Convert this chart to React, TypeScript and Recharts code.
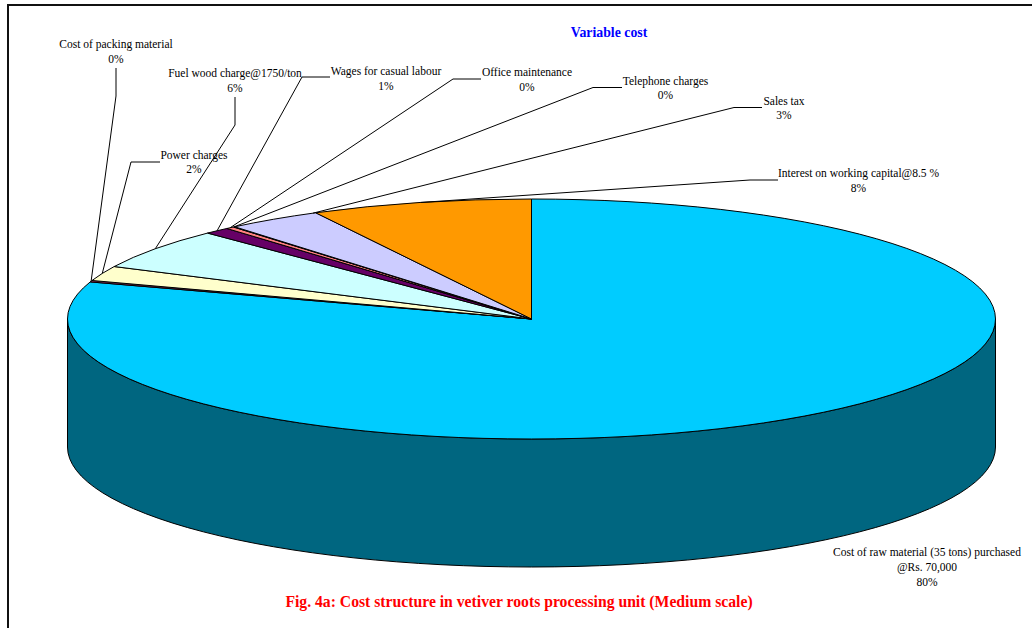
import React from 'react';
import { PieChart, Pie, Cell } from 'recharts';

const categories = [
  'Cost of raw material (35 tons) purchased @Rs. 70,000',
  'Cost of packing material',
  'Power charges',
  'Fuel wood charge@1750/ton',
  'Wages for casual labour',
  'Office maintenance',
  'Telephone charges',
  'Sales tax',
  'Interest on working capital@8.5 %',
];
const shares = [80.0, 0.2, 2.0, 5.5, 0.9, 0.3, 0.05, 3.35, 7.7];
const sliceColors = ['#00CCFF', '#993366', '#FFFFCC', '#CCFFFF', '#660066', '#FF8080', '#0066CC', '#CCCCFF', '#FF9900'];

const CHART_W = 1032;
const CHART_H = 628;
const CX = 531.5;
const CY = 319;
const RX = 464;
const RY = 120;
const DEPTH = 128;
const WALL = '#006680';

// where each callout sits: text centre, line centres, elbow polyline, and how far along the slice the leader lands
type Callout = { x: number; ys: number[]; lines?: string[]; elbow: [number, number][]; along?: number };
const callouts: Callout[] = [
  { x: 927, ys: [552, 567, 582], lines: ['Cost of raw material (35 tons) purchased', '@Rs. 70,000'], elbow: [] },
  { x: 116, ys: [43.5, 58.5], elbow: [[116, 68], [116, 96]] },
  { x: 194, ys: [155, 169], elbow: [[160, 162], [131, 162]] },
  { x: 235, ys: [72.5, 87.5], elbow: [[235, 97], [235, 125]] },
  { x: 386, ys: [71, 86], elbow: [[330, 77], [302, 77]] },
  { x: 527, ys: [72, 87], elbow: [[481, 79], [453, 79]] },
  { x: 665.5, ys: [81, 95], elbow: [[622, 87.5], [593, 87.5]] },
  { x: 784, ys: [101, 115], elbow: [[762, 107.5], [734, 107.5]], along: 0.97 },
  { x: 858.5, ys: [172.5, 187.5], elbow: [[778, 180], [750, 180]] },
];

const rad = (deg: number) => (deg * Math.PI) / 180;
const rim = (deg: number) => [CX + RX * Math.cos(rad(deg)), CY - RY * Math.sin(rad(deg))];

// Recharts hands over circular sector angles, flattened here to the tilted ellipse
const TiltedSlice = ({ startAngle, endAngle, fill }: any) => {
  const [x0, y0] = rim(startAngle);
  const [x1, y1] = rim(endAngle);
  const large = Math.abs(startAngle - endAngle) > 180 ? 1 : 0;
  const top = `M${CX},${CY} L${x0},${y0} A${RX},${RY} 0 ${large} 1 ${x1},${y1} Z`;

  // side wall only shows on the front half of the rim
  const from = Math.min(startAngle, 0);
  const to = Math.max(endAngle, -180);
  let wall = null;
  if (from > to) {
    const [wx0, wy0] = rim(from);
    const [wx1, wy1] = rim(to);
    wall = (
      <path
        d={`M${wx0},${wy0} A${RX},${RY} 0 0 1 ${wx1},${wy1} L${wx1},${wy1 + DEPTH} A${RX},${RY} 0 0 0 ${wx0},${wy0 + DEPTH} Z`}
        fill={WALL}
        stroke="#000"
        strokeWidth={1}
      />
    );
  }
  return (
    <g>
      {wall}
      <path d={top} fill={fill} stroke="#000" strokeWidth={1} strokeLinejoin="round" />
    </g>
  );
};

const CalloutLabel = ({ index, startAngle, endAngle, name, value }: any) => {
  const c = callouts[index];
  const along = c.along ?? 0.5;
  const tip = rim(startAngle + (endAngle - startAngle) * along);
  const lines = [...(c.lines ?? [name]), `${Math.round(value)}%`];
  return (
    <g>
      {c.elbow.length > 0 && (
        <polyline
          points={[...c.elbow, tip].map((p) => p.join(',')).join(' ')}
          fill="none"
          stroke="#000"
          strokeWidth={1}
        />
      )}
      {lines.map((t, i) => (
        <text
          key={i}
          x={c.x}
          y={c.ys[i]}
          textAnchor="middle"
          dominantBaseline="central"
          fontFamily="'Liberation Serif', serif"
          fontSize={11.5}
          fill="#000"
        >
          {t}
        </text>
      ))}
    </g>
  );
};

const data = categories.map((name, i) => ({ name, value: shares[i] }));

const heading = (top: number, left: number, color: string, fontSize: number): React.CSSProperties => ({
  position: 'absolute',
  top,
  left,
  transform: 'translate(-50%, -50%)',
  whiteSpace: 'nowrap',
  color,
  fontSize,
  fontWeight: 700,
  fontFamily: "'Liberation Serif', serif",
});

export default function App() {
  return (
    <div style={{ position: 'absolute', left: 0, top: 0, width: CHART_W, height: CHART_H, overflow: 'hidden', background: '#fff' }}>
      <div style={{ position: 'absolute', left: 7, top: 4, width: CHART_W, height: CHART_H, borderLeft: '2px solid #111', borderTop: '2px solid #111' }} />
      <PieChart width={CHART_W} height={CHART_H} margin={{ top: 0, right: 0, bottom: 0, left: 0 }}>
        <Pie
          data={data}
          dataKey="value"
          nameKey="name"
          cx={CX}
          cy={CY}
          innerRadius={0}
          outerRadius={RX}
          startAngle={90}
          endAngle={-270}
          shape={TiltedSlice}
          label={CalloutLabel}
          labelLine={false}
          isAnimationActive={false}
        >
          {sliceColors.map((c) => (
            <Cell key={c} fill={c} />
          ))}
        </Pie>
      </PieChart>
      <div style={heading(33, 609, '#0000FF', 13.8)}>Variable cost</div>
      <div style={heading(602, 519, '#FF0000', 15.7)}>Fig. 4a: Cost structure in vetiver roots processing unit (Medium scale)</div>
    </div>
  );
}
